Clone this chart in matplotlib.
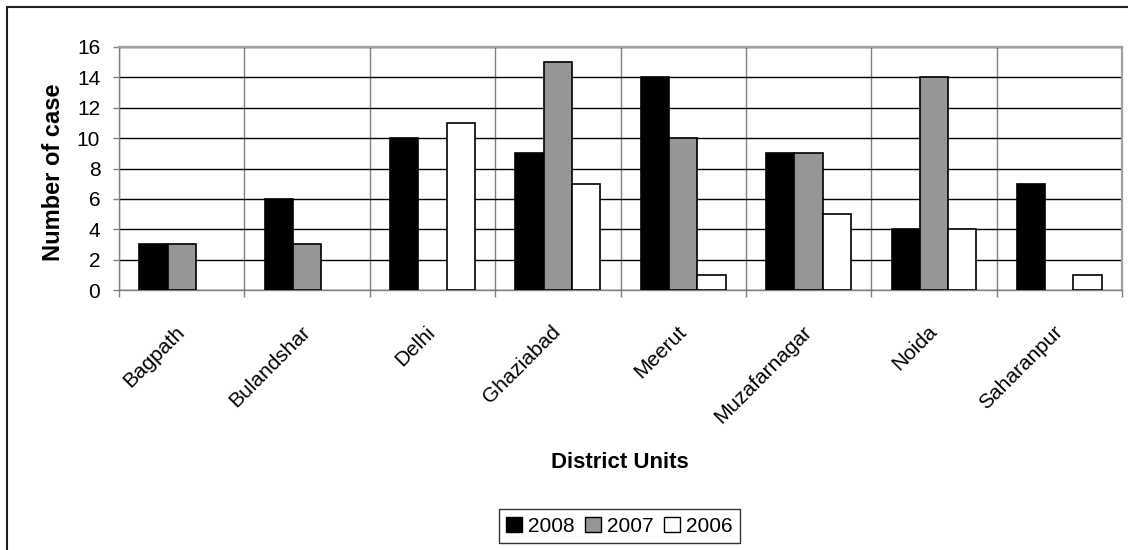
import numpy as np
import matplotlib
matplotlib.use("Agg")
import matplotlib.pyplot as plt
from matplotlib.patches import Rectangle

plt.rcParams["font.family"] = ["Liberation Sans", "DejaVu Sans"]

districts = ["Bagpath", "Bulandshar", "Delhi", "Ghaziabad", "Meerut",
             "Muzafarnagar", "Noida", "Saharanpur"]
cases_2008 = [3, 6, 10, 9, 14, 9, 4, 7]
cases_2007 = [3, 3, 0, 15, 10, 9, 14, 0]
cases_2006 = [0, 0, 11, 7, 1, 5, 4, 1]
years = ["2008", "2007", "2006"]
y_ticks = [0, 2, 4, 6, 8, 10, 12, 14, 16]

W, H = 1128, 550
fig = plt.figure(figsize=(W / 100, H / 100), dpi=100)
fig.patch.set_facecolor("white")

# outer chart frame (runs off the right and bottom edges)
fig.patches.append(Rectangle((7 / W, -0.1), 1.2, 1 - 7 / H + 0.1,
                             transform=fig.transFigure, fill=False,
                             edgecolor="#202020", lw=1.5))

ax = fig.add_axes([119 / W, 1 - 290 / H, (1122 - 119) / W, (290 - 47) / H])

x = np.arange(len(districts))
bw = 0.225
series = [cases_2008, cases_2007, cases_2006]
colors = ["black", "#969696", "white"]
for i, (vals, col, lab) in enumerate(zip(series, colors, years)):
    vals = np.array(vals)
    # zero-height bars get no outline
    lws = np.where(vals > 0, 1.2, 0)
    ax.bar(x + (i - 1) * bw, vals, bw, color=col, edgecolor="black",
           linewidth=lws, label=lab, zorder=3)

ax.set_xlim(-0.5, len(districts) - 0.5)
ax.set_ylim(0, 16)
ax.set_yticks(y_ticks)
ax.set_xticks(x)
ax.set_xticklabels(districts, rotation=45, ha="right", va="center",
                   rotation_mode="anchor")
ax.set_xticks(np.arange(-0.5, len(districts), 1), minor=True)

ax.grid(axis="y", which="major", color="black", lw=1, zorder=1)
ax.grid(axis="x", which="minor", color="#808080", lw=1, zorder=1)
ax.set_axisbelow(True)

ax.tick_params(axis="x", which="major", length=0, pad=28, labelsize=15)
ax.tick_params(axis="x", which="minor", length=5, direction="out",
               color="#808080", width=1)
ax.tick_params(axis="y", length=4.5, direction="out", color="#808080",
               width=1, pad=9, labelsize=15)

for s in ["top", "right"]:
    ax.spines[s].set_color("#a0a0a0")
    ax.spines[s].set_linewidth(1.6)
for s in ["left", "bottom"]:
    ax.spines[s].set_color("#808080")
    ax.spines[s].set_linewidth(1)

fig.text(54 / W, 1 - 172 / H, "Number of case", rotation=90, ha="center",
         va="center", fontsize=17, fontweight="bold")
fig.text(620 / W, 1 - 463 / H, "District Units", ha="center", va="center",
         fontsize=16, fontweight="bold")

leg = fig.legend(loc="center", bbox_to_anchor=(619.5 / W, 1 - 526 / H),
                 ncol=3, fontsize=15, frameon=True, fancybox=False,
                 edgecolor="black", handlelength=0.75, handleheight=0.75,
                 handletextpad=0.3, columnspacing=0.5, borderpad=0.35)
leg.get_frame().set_linewidth(1)
for h in leg.legend_handles:
    h.set_edgecolor("black")
    h.set_linewidth(1)

fig.savefig("out.png", dpi=100)
